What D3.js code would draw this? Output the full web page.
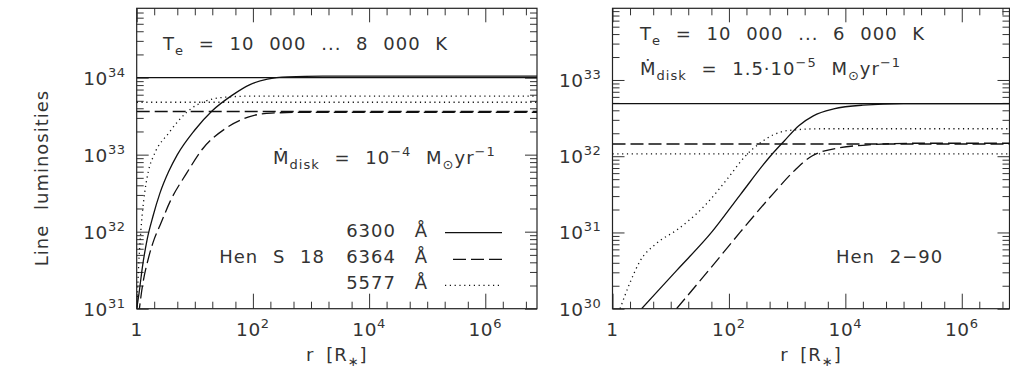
<!DOCTYPE html>
<html>
<head>
<meta charset="utf-8">
<script src="https://cdn.jsdelivr.net/npm/d3@7"></script>
<style>
  body { margin: 0; background: #fff; }
  text { font-family: "DejaVu Sans", sans-serif; font-size: 18px; fill: #333; letter-spacing: 1px; word-spacing: 8px; white-space: pre; }
  .tick-label { letter-spacing: 0.6px; font-size: 18.5px; }
  .axis-title { word-spacing: 5px; }
</style>
</head>
<body>
<svg id="chart" width="1010" height="372"></svg>
<script>
// all values are log10: [log r / R*, log L]
// Hen S 18 (left panel)
let hs18_6300 = [[0,31.0],[0.04,31.2],[0.1,31.55],[0.18,31.9],[0.28,32.2],[0.4,32.5],[0.55,32.78],[0.7,33.0],[1.0,33.32],[1.3,33.57],[1.64,33.77],[1.95,33.91],[2.25,33.98],[2.6,34.01],[3.2,34.02],[6.9,34.02]];
let hs18_6364 = [[0.03,30.9],[0.1,31.3],[0.2,31.65],[0.3,31.9],[0.4,32.08],[0.58,32.4],[0.86,32.76],[1.14,33.08],[1.53,33.34],[1.93,33.49],[2.32,33.54],[3.0,33.55],[6.9,33.55]];
let hs18_5577 = [[0.0,30.9],[0.03,31.5],[0.07,32.0],[0.12,32.4],[0.2,32.78],[0.3,33.0],[0.55,33.28],[0.86,33.55],[1.2,33.7],[1.6,33.75],[2.0,33.76],[6.9,33.76]];
let hs18_levels = [34.0, 33.56, 33.68];   // 6300, 6364, 5577

// Hen 2-90 (right panel)
let h290_6300 = [[0.5,30.0],[1.1,30.5],[1.7,31.0],[2.2,31.5],[2.71,32.0],[2.95,32.2],[3.2,32.4],[3.45,32.53],[3.8,32.62],[4.3,32.67],[5.0,32.69],[6.9,32.69]];
let h290_6364 = [[1.1,30.0],[1.65,30.5],[2.19,31.0],[2.75,31.5],[3.15,31.83],[3.42,32.0],[3.6,32.06],[3.9,32.11],[4.4,32.15],[5.2,32.17],[6.9,32.17]];
let h290_5577 = [[0.13,30.0],[0.3,30.34],[0.47,30.62],[0.76,30.86],[1.1,31.03],[1.62,31.38],[1.96,31.69],[2.28,32.0],[2.53,32.17],[2.76,32.28],[3.05,32.34],[3.6,32.36],[6.9,32.36]];
let h290_levels = [32.69, 32.16, 32.03];

let lineLabels = ["6300 Å", "6364 Å", "5577 Å"];
let dashes = [null, "13,5", "1.2,3.6"];

let xMajor = [0, 2, 4, 6];          // decades with labels
let svg = d3.select("#chart");

// Helper to write text with sub/superscripts
function richText(g, x, y, parts, anchor) {
    let t = g.append("text").attr("x", x).attr("y", y).attr("text-anchor", anchor || "start");
    let shift = 0;
    parts.forEach(function(p) {
        let target = p[1] == "sup" ? -8 : (p[1] == "sub" ? 5 : 0);
        let ts = t.append("tspan").attr("dy", target - shift).text(p[0]);
        if (p[1] != "n") ts.style("font-size", "13px");
        shift = target;
    });
    return t;
}

function makePanel(cfg) {
    let g = svg.append("g");
    let x = d3.scaleLog().domain([1, Math.pow(10, cfg.xTop)]).range([cfg.left, cfg.right]);
    let y = d3.scaleLog().domain([Math.pow(10, cfg.yBot), Math.pow(10, cfg.yTop)]).range([cfg.bottom, cfg.top]);

    let clipId = "clip" + cfg.id;
    svg.append("clipPath").attr("id", clipId)
        .append("rect")
        .attr("x", cfg.left).attr("y", cfg.top)
        .attr("width", cfg.right - cfg.left).attr("height", cfg.bottom - cfg.top);

    // ticks: x at 1,2,5 per decade, y at 1..9 per decade
    let xMinor = [], yMinor = [], yMajor = [];
    for (let e = 0; e <= 7; e++) {
        [1, 2, 5].forEach(function(m) {
            let v = m * Math.pow(10, e);
            if (v <= x.domain()[1] && !(m == 1 && e % 2 == 0)) xMinor.push(v);
        });
    }
    for (let e = cfg.yBot; e <= 35; e++) {
        for (let m = 1; m <= 9; m++) {
            let v = m * Math.pow(10, e);
            if (v > y.domain()[1]) continue;
            if (m == 1) yMajor.push(v); else yMinor.push(v);
        }
    }
    let xMaj = xMajor.map(function(e) { return Math.pow(10, e); });

    let axes = [
        [d3.axisBottom(x), cfg.bottom, xMinor, -7], [d3.axisBottom(x), cfg.bottom, xMaj, -15],
        [d3.axisTop(x), cfg.top, xMinor, -7], [d3.axisTop(x), cfg.top, xMaj, -14]
    ];
    axes.forEach(function(a) {
        g.append("g").attr("transform", `translate(0, ${a[1]})`)
            .call(a[0].tickValues(a[2]).tickSize(a[3]).tickFormat(""))
            .call(function(s) { s.select(".domain").remove(); s.selectAll("line").attr("stroke", "#333"); });
    });
    let yaxes = [
        [d3.axisLeft(y), cfg.left, yMinor, -7], [d3.axisLeft(y), cfg.left, yMajor, -12],
        [d3.axisRight(y), cfg.right, yMinor, -7], [d3.axisRight(y), cfg.right, yMajor, -12]
    ];
    yaxes.forEach(function(a) {
        g.append("g").attr("transform", `translate(${a[1]}, 0)`)
            .call(a[0].tickValues(a[2]).tickSize(a[3]).tickFormat(""))
            .call(function(s) { s.select(".domain").remove(); s.selectAll("line").attr("stroke", "#333"); });
    });

    // frame
    g.append("rect")
        .attr("x", cfg.left).attr("y", cfg.top)
        .attr("width", cfg.right - cfg.left).attr("height", cfg.bottom - cfg.top)
        .attr("fill", "none").attr("stroke", "#222").attr("stroke-width", 1.2);

    // tick labels
    xMajor.forEach(function(e) {
        let parts = e == 0 ? [["1", "n"]] : [["10", "n"], [String(e), "sup"]];
        richText(g, x(Math.pow(10, e)), cfg.bottom + 27, parts, "middle").attr("class", "tick-label");
    });
    yMajor.forEach(function(v) {
        let e = Math.round(Math.log10(v));
        richText(g, cfg.left - 11, y(v) + 7, [["10", "n"], [String(e), "sup"]], "end").attr("class", "tick-label");
    });

    // x label
    richText(g, (cfg.left + cfg.right) / 2, 361, [["r [R", "n"], ["∗", "sub"], ["]", "n"]], "middle")
        .attr("class", "axis-title");

    // curves and reference levels
    let line = d3.line()
        .x(function(d) { return x(Math.pow(10, d[0])); })
        .y(function(d) { return y(Math.pow(10, d[1])); })
        .curve(d3.curveMonotoneX);
    let plot = g.append("g").attr("clip-path", `url(#${clipId})`);
    cfg.series.forEach(function(s, i) {
        plot.append("path").datum(s)
            .attr("d", line)
            .attr("fill", "none").attr("stroke", "#111").attr("stroke-width", 1.3)
            .attr("stroke-dasharray", dashes[i]);
        plot.append("line")
            .attr("x1", cfg.left).attr("x2", cfg.right)
            .attr("y1", y(Math.pow(10, cfg.levels[i]))).attr("y2", y(Math.pow(10, cfg.levels[i])))
            .attr("stroke", "#111").attr("stroke-width", 1.3)
            .attr("stroke-dasharray", dashes[i]);
    });
    return g;
}

let left = makePanel({
    id: 1, left: 136.7, right: 537, top: 8.3, bottom: 308.7,
    xTop: 6.89, yBot: 31, yTop: 34.9,
    series: [hs18_6300, hs18_6364, hs18_5577], levels: hs18_levels
});
let right = makePanel({
    id: 2, left: 612.5, right: 1009.5, top: 8.3, bottom: 308.7,
    xTop: 6.82, yBot: 30, yTop: 33.94,
    series: [h290_6300, h290_6364, h290_5577], levels: h290_levels
});

// y axis title
svg.append("text")
    .attr("transform", "translate(48, 178) rotate(-90)")
    .attr("text-anchor", "middle")
    .text("Line luminosities");

// left panel annotations
richText(left, 163, 50, [["T", "n"], ["e", "sub"], [" = 10 000 ... 8 000 K", "n"]]);
richText(left, 273, 164, [["Ṁ", "n"], ["disk", "sub"], [" = 10", "n"], ["−4", "sup"], [" M", "n"], ["⊙", "sub"], ["yr", "n"], ["−1", "sup"]]);
richText(left, 325, 263.3, [["Hen S 18", "n"]], "end");

// legend
let legY = [236.7, 263.3, 289.3];
lineLabels.forEach(function(l, i) {
    left.append("text").attr("x", 428).attr("y", legY[i]).attr("text-anchor", "end")
        .style("word-spacing", "12px").text(l);
    left.append("line")
        .attr("x1", i == 1 ? 453 : 445).attr("x2", 502)
        .attr("y1", legY[i] - 4).attr("y2", legY[i] - 4)
        .attr("stroke", "#111").attr("stroke-width", 1.3)
        .attr("stroke-dasharray", dashes[i]);
});

// right panel annotations
richText(right, 640, 40, [["T", "n"], ["e", "sub"], [" = 10 000 ... 6 000 K", "n"]]);
richText(right, 640, 75, [["Ṁ", "n"], ["disk", "sub"], [" = 1.5·10", "n"], ["−5", "sup"], [" M", "n"], ["⊙", "sub"], ["yr", "n"], ["−1", "sup"]]);
richText(right, 836, 263.3, [["Hen 2−90", "n"]]);
</script>
</body>
</html>
